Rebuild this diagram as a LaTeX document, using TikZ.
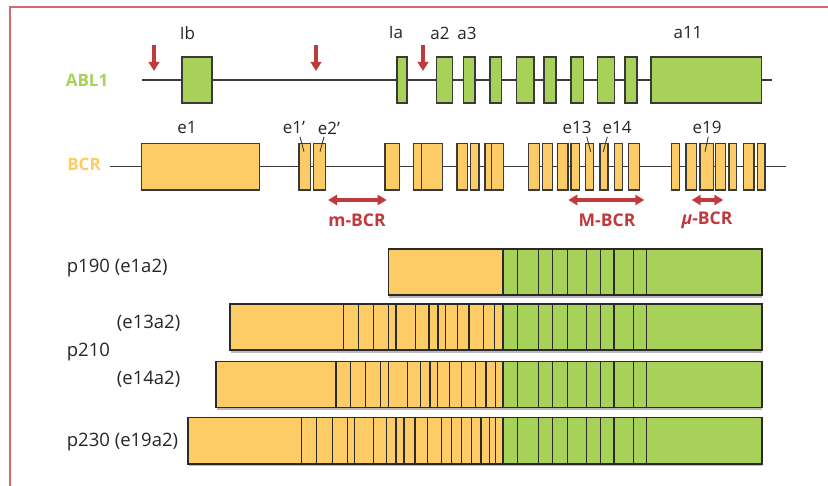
\documentclass[tikz,border=0pt]{standalone}
\usepackage{fontspec}
\setmainfont{Open Sans}
\usetikzlibrary{arrows.meta}
\definecolor{ablgreen}{HTML}{A8D15A}
\definecolor{bcryellow}{HTML}{FDCC66}
\definecolor{markred}{HTML}{C0393B}
\definecolor{framered}{HTML}{D46A6A}
\definecolor{ink}{HTML}{3A3A3A}
\definecolor{barink}{HTML}{2A2A2A}
\newcommand\fusionbar[4]{% left, top, bottom, BCR exon borders
  \fill[gray!55] (#1+1,#3) rectangle (761.7,#3+2.6);
  \fill[bcryellow] (#1,#2) rectangle (503.2,#3);
  \fill[ablgreen] (503.2,#2) rectangle (761.7,#3);
  \foreach \d in {#4} {\draw[divider] (\d,#2) -- (\d,#3);}
  \foreach \d in {503.2,517.7,538.7,552.7,567.3,586.7,600.7,614,633.3,646.7}
    {\draw[divider] (\d,#2) -- (\d,#3);}
  \draw[barline] (#1,#2) rectangle (761.7,#3);
}
\begin{document}
\begin{tikzpicture}[x=1pt,y=-1pt,
  gene/.style={draw=ink, line width=1.3},
  abx/.style={draw=ink, fill=ablgreen, line width=1.3},
  bcx/.style={draw=ink, fill=bcryellow, line width=1.3},
  divider/.style={draw=barink, line width=1.45},
  barline/.style={draw=barink, line width=1.6},
  lbl/.style={font=\fontsize{17}{20}\selectfont, text=black!85, inner sep=0},
  barlbl/.style={font=\fontsize{18.5}{22}\selectfont, text=black!85, inner sep=0, anchor=west},
  genename/.style={font=\fontsize{17}{20}\selectfont\bfseries, inner sep=0},
  regname/.style={font=\fontsize{17.5}{20}\selectfont\bfseries, text=markred, inner sep=0},
  brk/.style={markred, line width=4.2, -{Triangle[length=9pt,width=10.5pt]}},
  span/.style={markred, line width=3.4, {Triangle[length=9pt,width=10pt]}-{Triangle[length=9pt,width=10pt]}},
  tick/.style={draw=ink, line width=0.9}]
\useasboundingbox (0,0) rectangle (828,486);

% frame
\draw[framered, line width=1.6] (828,7) -- (10,7) -- (10,486);

% ---------------- ABL1 ----------------
\node[genename, text=ablgreen] (abl) at (87,80) {ABL1};
\draw[gene] (142,80) -- (772,80);
\foreach \a/\b in {182/212, 397/407, 436.7/452.3, 463.3/475, 490/501.7, 516.7/534,
  544/556, 571/583.3, 597.7/614.3, 625/637, 651/761.7}
  {\filldraw[abx] (\a,57) rectangle (\b,103);}
\node[lbl] (ib) at (187.5,33) {Ib};
\node[lbl] (ia) at (396,33) {Ia};
\node[lbl] (a2) at (440,33) {a2};
\node[lbl] (a3) at (467,33) {a3};
\node[lbl] (a11) at (688,33) {a11};
% breakpoint arrows
\coordinate (k1) at (154,45); \coordinate (k1e) at (154,71);
\coordinate (k2) at (316,45); \coordinate (k2e) at (316,71);
\coordinate (k3) at (423,45); \coordinate (k3e) at (423,71);
\draw[brk] (k1) -- (k1e);
\draw[brk] (k2) -- (k2e);
\draw[brk] (k3) -- (k3e);

% ---------------- BCR ----------------
\node[genename, text=bcryellow] (bcr) at (84,164) {BCR};
\draw[gene] (110,166.7) -- (786,166.7);
\foreach \a/\b in {141.7/259.3, 299/310.7, 313.7/325.7, 385/399.3, 413.3/442.7,
  457/467.7, 470.7/479, 485/503.3, 528.3/539.7, 542.7/552.7, 557.2/568, 571/579.5,
  585.5/593.7, 600/608, 614.3/622.7, 628.7/639.3, 671.7/679.3, 686/696.7,
  700/713.7, 715.7/725.7, 729/736.7, 743.3/754, 757.7/765}
  {\filldraw[bcx] (\a,143.3) rectangle (\b,190);}
\draw[divider, draw=ink, line width=1.3] (421.7,143.3) -- (421.7,190);
\draw[divider, draw=ink, line width=1.3] (491.7,143.3) -- (491.7,190);
\node[lbl] (e1) at (187,128) {e1};
\node[lbl] (e1p) at (294,128) {e1’};
\node[lbl] (e2p) at (329,128) {e2’};
\node[lbl] (e13) at (577,127) {e13};
\node[lbl] (e14) at (617,127) {e14};
\node[lbl] (e19) at (707,127) {e19};
\draw[tick] (300,136.7) -- (304,151.7);
\draw[tick] (324,136.7) -- (320,151.7);
\draw[tick] (586.7,136.7) -- (590.7,151.7);
\draw[tick] (607.3,136.7) -- (603.3,151.7);
\draw[tick] (708.3,136.7) -- (705,151.7);
% breakpoint cluster regions
\coordinate (m0) at (328,200);   \coordinate (m1) at (386.7,200);
\coordinate (M0) at (568.3,200); \coordinate (M1) at (644.3,200);
\coordinate (u0) at (691.7,200); \coordinate (u1) at (723.3,200);
\draw[span] (m0) -- (m1);
\draw[span] (M0) -- (M1);
\draw[span] (u0) -- (u1);
\node[regname] (mbcr) at (357,220) {m-BCR};
\node[regname] (Mbcr) at (607,220) {M-BCR};
\node[regname] (ubcr) at (707,220) {\textit{μ}-BCR};

% ---------------- fusion proteins ----------------
\fusionbar{388.3}{249.3}{295.3}{}
\fusionbar{230}{304.3}{350.3}{343.3,358.3,373.5,388.5,396.2,415.3,428.8,438.1,445.5,457.5,469.1,483.3,494.5}
\fusionbar{216}{361.7}{407.7}{336,350.3,365.5,380.7,388.3,407.5,420.7,430,437.3,449.3,461.7,475.5,486.2,495.5}
\fusionbar{187.7}{417.7}{463.7}{301.5,316.7,332.3,347.3,354.3,373.5,386.5,396,404,415.2,427.5,441.7,451.3,461.7,471.7,481,489.3,495.7}

\node[barlbl] (p190) at (66.7,268.3) {p190 (e1a2)};
\node[barlbl] (e13a2) at (116.7,323.3) {(e13a2)};
\node[barlbl] (p210) at (66.7,352) {p210};
\node[barlbl] (e14a2) at (116.7,379) {(e14a2)};
\node[barlbl] (p230) at (66.7,441.7) {p230 (e19a2)};
\end{tikzpicture}
\end{document}
